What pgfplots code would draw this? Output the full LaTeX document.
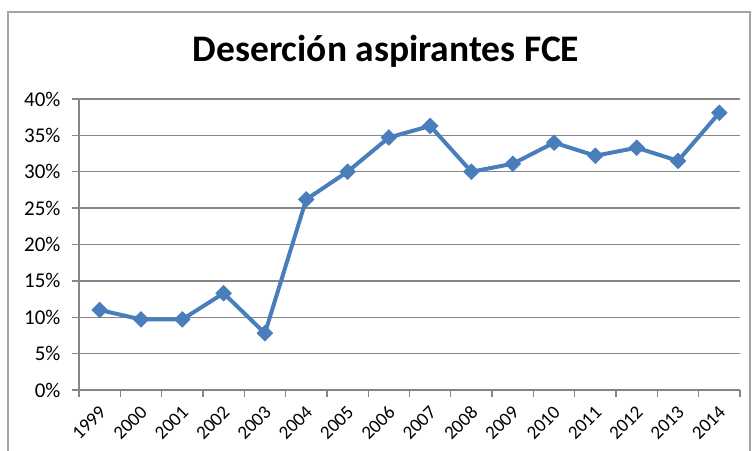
\documentclass[border=0pt]{standalone}
\usepackage{fontspec}
\setmainfont{Carlito}
\usepackage{pgfplots}
\pgfplotsset{compat=1.18}
\definecolor{excelblue}{RGB}{74,126,187}
\definecolor{gridgray}{RGB}{134,134,134}
\definecolor{framegray}{RGB}{165,165,165}
\begin{document}
\begin{tikzpicture}[x=1pt,y=1pt]
\useasboundingbox (0,0) rectangle (754,450);
\draw[framegray, line width=1.3pt] (8,-10) -- (8,438) -- (750,438) -- (750,-10);
\node[font=\fontsize{37.5}{42}\selectfont\bfseries] at (386,399) {Deserción aspirantes FCE};
\begin{axis}[at={(79pt,60pt)}, anchor=south west, scale only axis,
  width=661pt, height=291pt,
  xmin=-0.5, xmax=15.5, ymin=0, ymax=40,
  axis x line*=bottom, axis y line*=left,
  axis line style={draw=gridgray, line width=1.5pt, -},
  xtick={0,...,15},
  xticklabels={1999,2000,2001,2002,2003,2004,2005,2006,2007,2008,2009,2010,2011,2012,2013,2014},
  minor xtick={-0.5,0.5,...,15.5},
  major x tick style={draw=none},
  minor x tick style={draw=gridgray, line width=1.3pt},
  ytick={0,5,...,40},
  yticklabels={0\%,5\%,10\%,15\%,20\%,25\%,30\%,35\%,40\%},
  y tick style={draw=gridgray, line width=1.3pt},
  tick align=outside, major tick length=7pt, minor tick length=7pt,
  ymajorgrids, grid style={gridgray, line width=1.3pt},
  xticklabel style={yshift=-12pt, xshift=3pt, rotate=45, anchor=east, font=\fontsize{19}{22}\selectfont, inner sep=0pt},
  yticklabel style={font=\fontsize{21}{24}\selectfont, xshift=-8pt},
  clip=false]
\addplot[excelblue, line width=4pt, line join=round, mark=square*, mark size=5.6pt, mark options={fill=excelblue, solid, line width=0.5pt, rotate=45}]
coordinates {(0,11.0) (1,9.7) (2,9.7) (3,13.3) (4,7.8) (5,26.2) (6,30.0) (7,34.7) (8,36.3) (9,30.0) (10,31.1) (11,34.0) (12,32.2) (13,33.3) (14,31.5) (15,38.1)};
\end{axis}
\end{tikzpicture}
\end{document}
